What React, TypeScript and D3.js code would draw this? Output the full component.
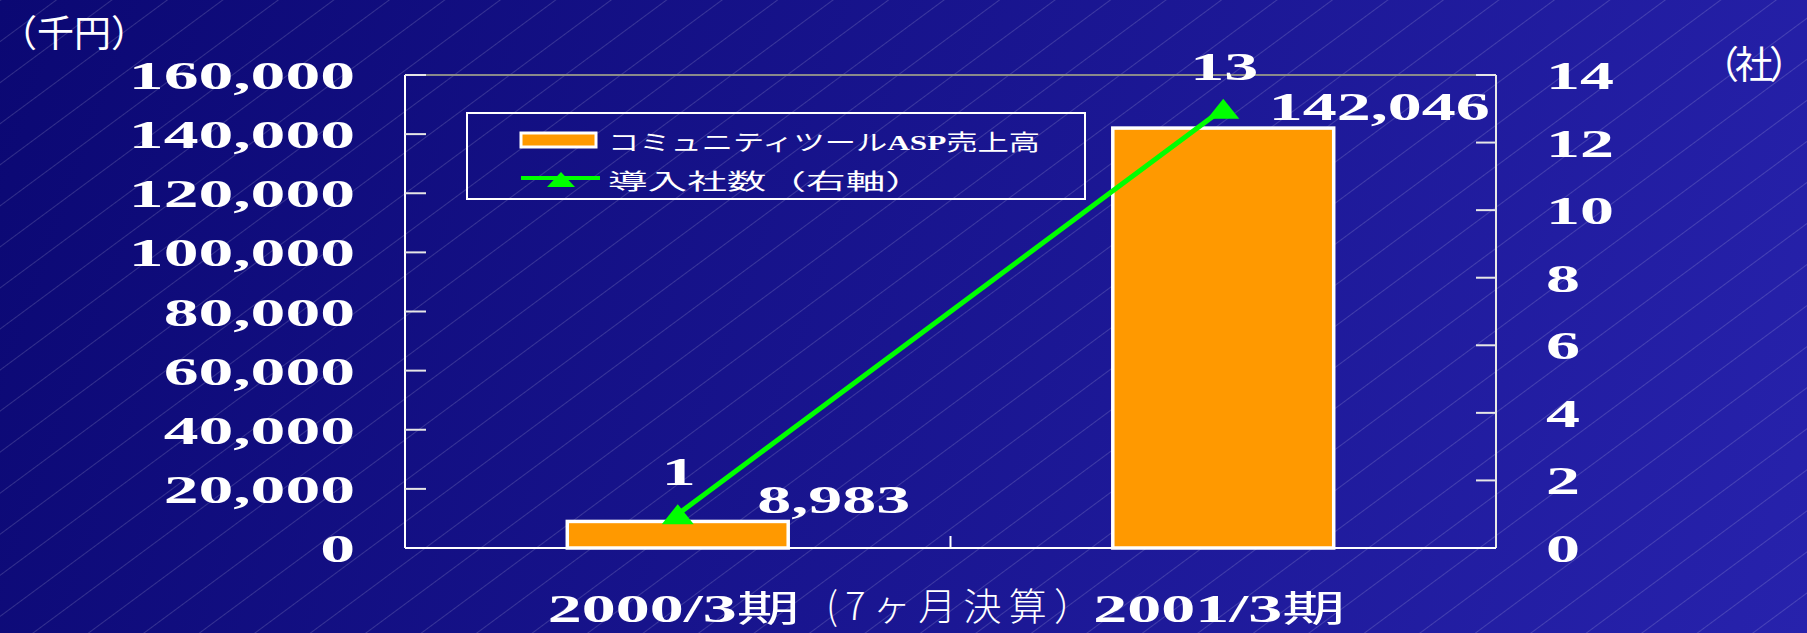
import React from "react";
import * as d3 from "d3";

const categories = ["2000/3期", "2001/3期"];
const categoryNotes = ["(7ヶ月決算）", ""];
const sales = [8983, 142046];
const companies = [1, 13];
const leftTicks = [0, 20000, 40000, 60000, 80000, 100000, 120000, 140000, 160000];
const rightTicks = [0, 2, 4, 6, 8, 10, 12, 14];
const legendLabels = ["コミュニティツール", "ASP", "売上高"];
const legendLabel2 = "導入社数（右軸）";
const leftUnit = "（千円）";
const rightUnit = "（社）";

const W = 1807;
const H = 633;
const M = { left: 405, right: 1496, top: 75, bottom: 548 };
const SERIF = "'Liberation Serif', 'DejaVu Serif', serif";
const CJK = "'Noto Sans CJK JP', 'Noto Sans', sans-serif";
const SX = 1.7;
const ORANGE = "#ff9900";
const GREEN = "#00ff00";

function SText(props: any) {
  const { x, y, sx = SX, anchor = "start", size = 40, children, weight = "bold", family = SERIF } = props;
  return (
    <text
      transform={`translate(${x},${y}) scale(${sx},1)`}
      textAnchor={anchor}
      fontFamily={family}
      fontWeight={weight}
      fontSize={size}
      fill="#fff"
    >
      {children}
    </text>
  );
}

function tri(cx: number, cy: number, w: number, h: number) {
  const p = d3.path();
  p.moveTo(cx, cy - h / 2);
  p.lineTo(cx + w / 2, cy + h / 2);
  p.lineTo(cx - w / 2, cy + h / 2);
  p.closePath();
  return p.toString();
}

export default function App() {
  const x = d3.scaleBand().domain(categories).range([M.left, M.right]);
  const y1 = d3.scaleLinear().domain([0, 160000]).range([M.bottom, M.top]);
  const y2 = d3.scaleLinear().domain([0, 14]).range([M.bottom, M.top]);
  const bw = x.bandwidth() * 0.405;
  const cx = (c: string) => (x(c) as number) + x.bandwidth() / 2;
  const fmt = d3.format(",");
  const pts: [number, number][] = categories.map((c, i) => [cx(c), y2(companies[i])]);
  const line = d3.line();

  return (
    <div style={{ position: "absolute", left: 0, top: 0, width: W, height: H, overflow: "hidden" }}>
      <style>{`body{margin:0;overflow:hidden}`}</style>
      <svg width={W} height={H} style={{ display: "block" }}>
        <defs>
          <linearGradient id="bg" gradientUnits="userSpaceOnUse" x1={0} y1={0} x2={W} y2={H}>
            <stop offset="0" stopColor="#0b0873" />
            <stop offset="1" stopColor="#2722ac" />
          </linearGradient>
          <pattern id="diag" patternUnits="userSpaceOnUse" width={33} height={20} patternTransform="rotate(53.5)">
            <line x1={0} y1={0} x2={0} y2={20} stroke="#ffffff" strokeOpacity={0.3} strokeWidth={1} />
          </pattern>
        </defs>
        <rect x={0} y={0} width={W} height={H} fill="url(#bg)" />
        <rect x={0} y={0} width={W} height={H} fill="url(#diag)" />

        {/* unit labels */}
        <text x={0} y={47} fontFamily={CJK} fontSize={37} fill="#fff">{leftUnit}</text>
        <text x={1701} y={78} fontFamily={CJK} fontSize={38} letterSpacing={-4} fill="#fff">{rightUnit}</text>

        {/* plot frame */}
        <line x1={M.left} x2={M.right} y1={M.top} y2={M.top} stroke="#8a8a8a" strokeWidth={2} />
        <line x1={M.left} x2={M.left} y1={M.top} y2={M.bottom} stroke="#fff" strokeWidth={2} />
        <line x1={M.right} x2={M.right} y1={M.top} y2={M.bottom} stroke="#e8e8e8" strokeWidth={2} />

        {/* left ticks */}
        {leftTicks.map((t) => (
          <g key={"l" + t}>
            <line x1={M.left} x2={M.left + 21} y1={y1(t)} y2={y1(t)} stroke="#e6e6e6" strokeWidth={2} />
            <SText x={355} y={y1(t) + 14} anchor="end" sx={1.74}>{fmt(t)}</SText>
          </g>
        ))}
        {/* right ticks */}
        {rightTicks.map((t) => (
          <g key={"r" + t}>
            <line x1={M.right - 20} x2={M.right} y1={y2(t)} y2={y2(t)} stroke="#e6e6e6" strokeWidth={2} />
            <SText x={1546} y={y2(t) + 14}>{t}</SText>
          </g>
        ))}

        {/* bars */}
        {categories.map((c, i) => (
          <rect
            key={"b" + c}
            x={cx(c) - bw / 2}
            y={y1(sales[i])}
            width={bw}
            height={M.bottom - y1(sales[i])}
            fill={ORANGE}
            stroke="#fff"
            strokeWidth={3.5}
          />
        ))}

        {/* bottom axis */}
        <line x1={M.left} x2={M.right} y1={M.bottom} y2={M.bottom} stroke="#fff" strokeWidth={2} />
        <line
          x1={(x(categories[1]) as number)}
          x2={(x(categories[1]) as number)}
          y1={M.bottom}
          y2={M.bottom - 12}
          stroke="#fff"
          strokeWidth={2}
        />

        {/* sales labels */}
        {categories.map((c, i) => (
          <SText key={"sl" + c} x={cx(c) + 156} y={y1(sales[i]) - 8} anchor="middle">{fmt(sales[i])}</SText>
        ))}

        {/* companies line */}
        <path d={line(pts) || ""} fill="none" stroke={GREEN} strokeWidth={5} />
        {pts.map((p, i) => (
          <path key={"m" + i} d={tri(p[0], p[1], 32, 20)} fill={GREEN} />
        ))}
        {categories.map((c, i) => (
          <SText key={"cl" + c} x={cx(c) + 1} y={y2(companies[i]) - 29} anchor="middle">{companies[i]}</SText>
        ))}

        {/* legend */}
        <rect x={467} y={113} width={618} height={86} fill="none" stroke="#fff" strokeWidth={2} />
        <rect x={521} y={133} width={75} height={14} fill={ORANGE} stroke="#fff" strokeWidth={3} />
        <text x={608} y={150} fontSize={22} fill="#fff" textLength={432} lengthAdjust="spacingAndGlyphs">
          <tspan fontFamily={CJK}>{legendLabels[0]}</tspan>
          <tspan fontFamily={SERIF} fontWeight="bold">{legendLabels[1]}</tspan>
          <tspan fontFamily={CJK}>{legendLabels[2]}</tspan>
        </text>
        <line x1={521} x2={600} y1={178} y2={178} stroke={GREEN} strokeWidth={4} />
        <path d={tri(561, 179.5, 28, 15)} fill={GREEN} />
        <text x={608} y={189} fontFamily={CJK} fontSize={22} fill="#fff" textLength={317} lengthAdjust="spacingAndGlyphs">
          {legendLabel2}
        </text>

        {/* category labels */}
        {categories.map((c, i) => {
          const m = c.match(/^([0-9/]+)(.*)$/) || [c, c, ""];
          return (
            <g key={"x" + c}>
              <text
                transform={`translate(${cx(c) - 4},${622}) scale(${SX},1)`}
                textAnchor="middle"
                fill="#fff"
              >
                <tspan fontFamily={SERIF} fontWeight="bold" fontSize={40}>{m[1]}</tspan>
                <tspan fontFamily={CJK} fontSize={37}>{m[2]}</tspan>
              </text>
              {categoryNotes[i] ? (
                <text
                  x={826}
                  y={620}
                  fontFamily={CJK}
                  fontWeight={300}
                  fontSize={38}
                  fill="#fff"
                  textLength={266}
                  lengthAdjust="spacing"
                >
                  {categoryNotes[i]}
                </text>
              ) : null}
            </g>
          );
        })}
      </svg>
    </div>
  );
}
